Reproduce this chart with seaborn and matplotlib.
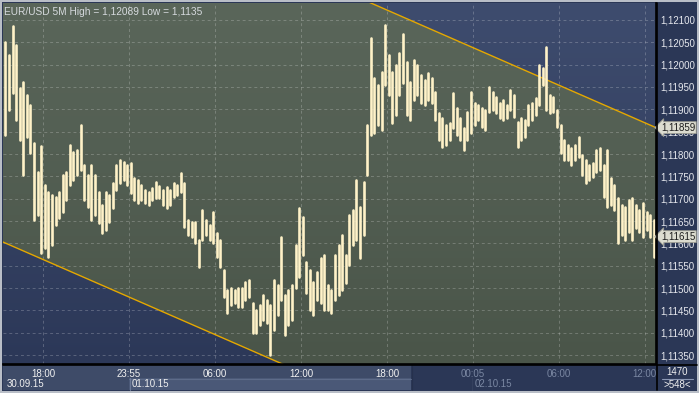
import numpy as np
import pandas as pd
import matplotlib
matplotlib.use("Agg")
import matplotlib.pyplot as plt
import seaborn as sns
from matplotlib.patches import Rectangle, Polygon
from matplotlib.ticker import MultipleLocator, FuncFormatter
import matplotlib.transforms as mtransforms

# ---------------- data ----------------
# hours relative to 30.09.15 18:00, 15-minute aggregated bars of the EUR/USD 5M chart
bin_start_hour = -2.75
bin_hours = 0.25
high = [1.12051, 1.12022, 1.12087, 1.12044, 1.11948, 1.11961, 1.11932, 1.11910, 1.11825, 1.11760,
        1.11818, 1.11731, 1.11715, 1.11708, 1.11704, 1.11715, 1.11753, 1.11760, 1.11820, 1.11804,
        1.11809, 1.11865, 1.11775, 1.11753, 1.11775, 1.11753, 1.11715, 1.11686, 1.11715, 1.11708,
        1.11735, 1.11775, 1.11787, 1.11782, 1.11775, 1.11780, 1.11746, 1.11742, 1.11731, 1.11719,
        1.11715, 1.11724, 1.11737, 1.11728, 1.11719, 1.11726, 1.11719, 1.11735, 1.11731, 1.11757,
        1.11735, 1.11652, 1.11648, 1.11648, 1.11607, 1.11675, 1.11652, 1.11641, 1.11670, 1.11623,
        1.11607, 1.11540, 1.11495, 1.11500, 1.11495, 1.11500, 1.11500, 1.11513, 1.11518, 1.11466,
        1.11451, 1.11462, 1.11484, 1.11473, 1.11462, 1.11518, 1.11507, 1.11614, 1.11484, 1.11495,
        1.11507, 1.11596, 1.11679, 1.11659, 1.11558, 1.11540, 1.11513, 1.11536, 1.11567, 1.11574,
        1.11507, 1.11495, 1.11574, 1.11596, 1.11619, 1.11574, 1.11663, 1.11675, 1.11742, 1.11681,
        1.11737, 1.11865, 1.12060, 1.11970, 1.11954, 1.11984, 1.12089, 1.12022, 1.11984, 1.11999,
        1.12026, 1.12069, 1.12006, 1.11961, 1.12010, 1.11999, 1.11977, 1.11966, 1.11981, 1.11970,
        1.11939, 1.11892, 1.11881, 1.11865, 1.11869, 1.11937, 1.11903, 1.11881, 1.11858, 1.11894,
        1.11939, 1.11914, 1.11910, 1.11903, 1.11898, 1.11950, 1.11939, 1.11928, 1.11914, 1.11921,
        1.11910, 1.11943, 1.11932, 1.11872, 1.11881, 1.11876, 1.11910, 1.11914, 1.11925, 1.11999,
        1.11993, 1.12040, 1.11932, 1.11928, 1.11898, 1.11865, 1.11831, 1.11820, 1.11813, 1.11820,
        1.11838, 1.11798, 1.11787, 1.11775, 1.11780, 1.11809, 1.11813, 1.11775, 1.11809, 1.11746,
        1.11731, 1.11701, 1.11686, 1.11681, 1.11697, 1.11701, 1.11686, 1.11675, 1.11690, 1.11670,
        1.11663, 1.11652]
low = [1.11843, 1.11898, 1.11937, 1.11876, 1.11831, 1.11753, 1.11838, 1.11802, 1.11652, 1.11663,
       1.11578, 1.11590, 1.11569, 1.11596, 1.11641, 1.11657, 1.11670, 1.11697, 1.11731, 1.11742,
       1.11753, 1.11764, 1.11697, 1.11681, 1.11652, 1.11663, 1.11645, 1.11623, 1.11630, 1.11648,
       1.11679, 1.11719, 1.11735, 1.11742, 1.11731, 1.11713, 1.11697, 1.11690, 1.11697, 1.11690,
       1.11686, 1.11697, 1.11701, 1.11701, 1.11686, 1.11679, 1.11686, 1.11704, 1.11708, 1.11715,
       1.11637, 1.11619, 1.11614, 1.11601, 1.11547, 1.11607, 1.11619, 1.11607, 1.11601, 1.11569,
       1.11547, 1.11480, 1.11444, 1.11462, 1.11466, 1.11457, 1.11457, 1.11473, 1.11480, 1.11399,
       1.11399, 1.11417, 1.11428, 1.11422, 1.11350, 1.11406, 1.11439, 1.11473, 1.11395, 1.11417,
       1.11428, 1.11500, 1.11525, 1.11574, 1.11489, 1.11451, 1.11439, 1.11473, 1.11466, 1.11451,
       1.11451, 1.11444, 1.11473, 1.11484, 1.11495, 1.11511, 1.11551, 1.11596, 1.11607, 1.11567,
       1.11619, 1.11753, 1.11843, 1.11847, 1.11865, 1.11854, 1.11954, 1.11932, 1.11869, 1.11887,
       1.11932, 1.11959, 1.11887, 1.11876, 1.11921, 1.11932, 1.11914, 1.11910, 1.11921, 1.11914,
       1.11876, 1.11831, 1.11816, 1.11820, 1.11831, 1.11858, 1.11843, 1.11831, 1.11809, 1.11831,
       1.11847, 1.11865, 1.11876, 1.11860, 1.11854, 1.11894, 1.11898, 1.11892, 1.11881, 1.11876,
       1.11881, 1.11898, 1.11883, 1.11816, 1.11831, 1.11838, 1.11865, 1.11876, 1.11887, 1.11910,
       1.11954, 1.11898, 1.11892, 1.11894, 1.11860, 1.11802, 1.11787, 1.11787, 1.11775, 1.11787,
       1.11793, 1.11753, 1.11735, 1.11742, 1.11748, 1.11760, 1.11764, 1.11704, 1.11681, 1.11686,
       1.11675, 1.11601, 1.11619, 1.11607, 1.11625, 1.11607, 1.11634, 1.11625, 1.11614, 1.11630,
       1.11614, 1.11569]

tick_hours = [0, 6, 12, 18, 24, 30, 36, 42]
tick_labels = ["18:00", "23:55", "06:00", "12:00", "18:00", "00:05", "06:00", "12:00"]
date_labels = ["30.09.15", "01.10.15", "02.10.15"]

channel_hours = [-2.79, 42.78]
upper_channel = [1.12498, 1.11859]
lower_channel = [1.11603, 1.10965]
last_close = 1.11615
session_high = 1.12089
session_low = 1.1135
bars_total = 1470
bars_visible = 548

x_range = (-2.79, 42.78)
y_range = (1.11330, 1.12138)

# ---------------- figure ----------------
sns.set_theme(style="dark")
plt.rcParams['font.family'] = ['Liberation Sans', 'DejaVu Sans']
FS = 7.0

W, H = 699, 393
fig = plt.figure(figsize=(W / 100, H / 100), dpi=100)
fig.patch.set_facecolor('#b9bec7')


def frect(x0, y0, x1, y1, color, z=-2):
    r = Rectangle((x0 / W, 1 - y1 / H), (x1 - x0) / W, (y1 - y0) / H,
                  transform=fig.transFigure, facecolor=color, edgecolor='none', zorder=z)
    fig.patches.append(r)


def fline(x0, y0, x1, y1, color, lw=1.0, z=-1):
    fig.add_artist(plt.Line2D([x0 / W, x1 / W], [1 - y0 / H, 1 - y1 / H],
                              transform=fig.transFigure, color=color, lw=lw, zorder=z))


frect(2, 2, 697, 391, '#2b3756')
frect(3, 365, 411, 378, '#3e4b68')
frect(3, 378, 129, 390, '#3e4b68')
frect(129, 378, 411, 390, '#4a5877')
fline(129, 378.5, 411, 378.5, '#5d6b89', 0.8)
fline(129.5, 378, 129.5, 390, '#6c7a98', 0.8)
fline(411.5, 365, 411.5, 390, '#26314d', 0.8)
fline(471.5, 378, 471.5, 390, '#34405e', 0.8)

ax = fig.add_axes([3 / W, 1 - 364 / H, 653 / W, 361 / H])
ax.set_xlim(*x_range)
ax.set_ylim(*y_range)

# background gradients
n = 256
top_b, bot_b = np.array([62, 76, 110]), np.array([44, 56, 88])
top_g, bot_g = np.array([90, 102, 90]), np.array([74, 85, 73])
f = np.linspace(0, 1, n)[:, None, None]
blue_grad = (top_b + f * (bot_b - top_b)) / 255
green_grad = (top_g + f * (bot_g - top_g)) / 255
ext = [x_range[0], x_range[1], y_range[0], y_range[1]]
ax.imshow(blue_grad, extent=ext, aspect='auto', origin='upper', zorder=0)
gimg = ax.imshow(green_grad, extent=ext, aspect='auto', origin='upper', zorder=0.1)
poly = Polygon([(channel_hours[0], upper_channel[0]), (channel_hours[1], upper_channel[1]),
                (channel_hours[1], lower_channel[1]), (channel_hours[0], lower_channel[0])],
               closed=True, transform=ax.transData, facecolor='none', edgecolor='none')
gimg.set_clip_path(poly)
ax.set_xlim(*x_range)
ax.set_ylim(*y_range)

# grid
ax.set_xticks(tick_hours)
ax.yaxis.set_major_locator(MultipleLocator(0.0005))
ax.grid(True, which='major', color='white', alpha=0.22, linestyle=(0, (3, 3)), linewidth=0.7)
ax.set_axisbelow(True)
for gl in ax.get_xgridlines() + ax.get_ygridlines():
    gl.set_zorder(0.5)

# channel lines
ax.plot(channel_hours, upper_channel, color='#e5a800', lw=1.0, zorder=1.5)
ax.plot(channel_hours, lower_channel, color='#e5a800', lw=1.0, zorder=1.5)

# price bars via seaborn
nb = len(high)
t = bin_start_hour + bin_hours * (np.arange(nb) + 0.5)
df = pd.DataFrame({
    't': np.concatenate([t, t]),
    'price': np.concatenate([high, low]),
    'bin': np.concatenate([np.arange(nb), np.arange(nb)]),
})
sns.lineplot(data=df, x='t', y='price', units='bin', estimator=None, sort=False,
             color='#fff2c8', linewidth=1.9, ax=ax, legend=False, zorder=2)
ax.set_xlim(*x_range)
ax.set_ylim(*y_range)
ax.set_xlabel('')
ax.set_ylabel('')

# axes styling
for s in ['top', 'left']:
    ax.spines[s].set_visible(False)
ax.spines['bottom'].set_color('black')
ax.spines['right'].set_color('black')
ax.spines['bottom'].set_linewidth(1.2)
ax.spines['right'].set_linewidth(1.2)

ax.yaxis.tick_right()
ax.yaxis.set_major_formatter(FuncFormatter(lambda v, p: f"{v:.5f}".replace('.', ',')))
ax.tick_params(axis='y', length=0, pad=3, labelsize=FS, labelcolor='#e6e8ee')
ax.set_xticklabels(tick_labels)
ax.tick_params(axis='x', length=0, pad=3.4, labelsize=FS)
for i, lab in enumerate(ax.get_xticklabels()):
    lab.set_color('#f2f2f2' if i < 5 else '#7a87a2')

# extend black separators
fline(3, 364.5, 697, 364.5, 'black', 1.2, z=3)
fline(656.5, 3, 656.5, 390, 'black', 1.2, z=3)

# title
fig.text(4 / W, 1 - 12 / H, f"EUR/USD 5M High = {session_high:.5f}".replace('.', ',') +
         f" Low = {session_low:.4f}".replace('.', ','),
         color='#d6dade', fontsize=7.3, va='center', ha='left')

# dates
fig.text(7 / W, 1 - 384 / H, date_labels[0], color='#f0f0f0', fontsize=FS, va='center', ha='left')
fig.text(132 / W, 1 - 384 / H, date_labels[1], color='#f0f0f0', fontsize=FS, va='center', ha='left')
fig.text(475 / W, 1 - 384 / H, date_labels[2], color='#7a87a2', fontsize=FS, va='center', ha='left')

# bar counters
fig.text(677 / W, 1 - 372 / H, str(bars_total), color='#f0f0f0', fontsize=FS, va='center', ha='center')
fig.text(677 / W, 1 - 384.5 / H, f">{bars_visible}<", color='#f0f0f0', fontsize=FS, va='center', ha='center')
fline(662, 378.5, 693, 378.5, '#8c98b4', 0.8, z=3)

# price markers
trans = mtransforms.blended_transform_factory(ax.transAxes, ax.transData)
for val in [upper_channel[1], last_close]:
    ax.text(1.0 + 5 / 653, val, f"{val:.5f}".replace('.', ','), transform=trans,
            color='#1c1c1c', fontsize=FS, va='center', ha='left', zorder=5, clip_on=False,
            bbox=dict(boxstyle='larrow,pad=0.1', fc='#dcdcd0', ec='#9a9a90', lw=0.6))

fig.savefig('out.png', dpi=100, facecolor=fig.get_facecolor())
